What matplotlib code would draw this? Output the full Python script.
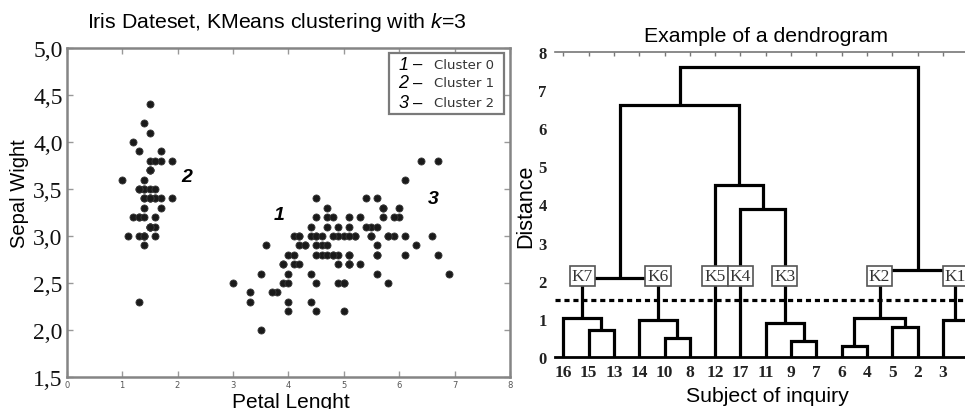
import matplotlib
matplotlib.use("Agg")
import matplotlib.pyplot as plt
from matplotlib.patches import Rectangle

plt.rcParams['font.family'] = ['Liberation Sans', 'DejaVu Sans']
plt.rcParams['mathtext.fontset'] = 'custom'
plt.rcParams['mathtext.rm'] = 'Liberation Sans'
plt.rcParams['mathtext.it'] = 'Liberation Sans:italic'

# ---------------- Data: Iris (petal length, sepal width) by KMeans cluster ----------------
c1_petal_len = [1.4, 1.4, 1.3, 1.5, 1.4, 1.7, 1.4, 1.5, 1.4, 1.5, 1.5, 1.6, 1.4, 1.1, 1.2, 1.5, 1.3,
                1.4, 1.7, 1.5, 1.7, 1.5, 1.0, 1.7, 1.9, 1.6, 1.6, 1.5, 1.4, 1.6, 1.6, 1.5, 1.5, 1.4,
                1.5, 1.2, 1.3, 1.5, 1.3, 1.5, 1.3, 1.3, 1.3, 1.6, 1.9, 1.4, 1.6, 1.4, 1.5, 1.4]
c1_sepal_wid = [3.5, 3.0, 3.2, 3.1, 3.6, 3.9, 3.4, 3.4, 2.9, 3.1, 3.7, 3.4, 3.0, 3.0, 4.0, 4.4, 3.9,
                3.5, 3.8, 3.8, 3.4, 3.7, 3.6, 3.3, 3.4, 3.0, 3.4, 3.5, 3.4, 3.2, 3.1, 3.4, 4.1, 4.2,
                3.1, 3.2, 3.5, 3.1, 3.0, 3.4, 3.5, 2.3, 3.2, 3.5, 3.8, 3.0, 3.8, 3.2, 3.7, 3.3]
c0_petal_len = [4.7, 4.5, 4.9, 4.0, 4.6, 4.5, 4.7, 3.3, 4.6, 3.9, 3.5, 4.2, 4.0, 4.7, 3.6, 4.4, 4.5,
                4.1, 4.5, 3.9, 4.8, 4.0, 4.9, 4.7, 4.3, 4.4, 4.8, 5.0, 4.5, 3.5, 3.8, 3.7, 3.9, 5.1,
                4.5, 4.5, 4.7, 4.4, 4.1, 4.0, 4.4, 4.6, 4.0, 3.3, 4.2, 4.2, 4.2, 4.3, 3.0, 4.1]
c0_sepal_wid = [3.2, 3.2, 3.1, 2.3, 2.8, 2.8, 3.3, 2.4, 2.9, 2.7, 2.0, 3.0, 2.2, 2.9, 2.9, 3.1, 3.0,
                2.7, 2.2, 2.5, 3.2, 2.8, 2.5, 2.8, 2.9, 3.0, 2.8, 3.0, 2.9, 2.6, 2.4, 2.4, 2.7, 2.7,
                3.0, 3.4, 3.1, 2.3, 3.0, 2.5, 2.6, 3.0, 2.6, 2.3, 2.7, 3.0, 2.9, 2.9, 2.5, 2.8]
c2_petal_len = [6.0, 5.1, 5.9, 5.6, 5.8, 6.6, 4.5, 6.3, 5.8, 6.1, 5.1, 5.3, 5.5, 5.0, 5.1, 5.3, 5.5,
                6.7, 6.9, 5.0, 5.7, 4.9, 6.7, 4.9, 5.7, 6.0, 4.8, 4.9, 5.6, 5.8, 6.1, 6.4, 5.6, 5.1,
                5.6, 6.1, 5.6, 5.5, 4.8, 5.4, 5.6, 5.1, 5.1, 5.9, 5.7, 5.2, 5.0, 5.2, 5.4, 5.1]
c2_sepal_wid = [3.3, 2.7, 3.0, 2.9, 3.0, 3.0, 2.5, 2.9, 2.5, 3.6, 3.2, 2.7, 3.0, 2.5, 2.8, 3.2, 3.0,
                3.8, 2.6, 2.2, 3.2, 2.8, 2.8, 2.7, 3.3, 3.2, 2.8, 3.0, 2.8, 3.0, 2.8, 3.8, 2.8, 2.8,
                2.6, 3.0, 3.4, 3.1, 3.0, 3.1, 3.1, 3.1, 2.7, 3.2, 3.3, 3.0, 2.5, 3.0, 3.4, 3.0]

legend_numbers = ["1", "2", "3"]
legend_labels = ["Cluster 0", "Cluster 1", "Cluster 2"]
cluster_tags = ["1", "2", "3"]
cluster_tag_x = [3.83, 2.17, 6.62]
cluster_tag_y = [3.23, 3.63, 3.40]
left_xticks = [0, 1, 2, 3, 4, 5, 6, 7, 8]
left_yticks = [1.5, 2.0, 2.5, 3.0, 3.5, 4.0, 4.5, 5.0]
left_yticklabels = ["1,5", "2,0", "2,5", "3,0", "3,5", "4,0", "4,5", "5,0"]

# ---------------- Data: dendrogram merges (left, right, height) ----------------
merges = [
    ("15", "13", 0.70),   # 0
    ("16", 0, 1.02),      # 1  K7
    ("10", "8", 0.50),    # 2
    ("14", 2, 0.96),      # 3  K6
    (1, 3, 2.06),         # 4
    ("9", "7", 0.42),     # 5
    ("11", 5, 0.89),      # 6  K3
    ("17", 6, 3.87),      # 7
    ("12", 7, 4.50),      # 8
    (4, 8, 6.60),         # 9
    ("6", "4", 0.30),     # 10
    ("5", "2", 0.78),     # 11
    (10, 11, 1.02),       # 12 K2
    ("3", "1", 0.98),     # 13 K1
    (12, 13, 2.28),       # 14
    (9, 14, 7.61),        # 15
]
cluster_names = ["K7", "K6", "K5", "K4", "K3", "K2", "K1"]
cluster_nodes = [1, 3, "12", "17", 6, 12, 13]
label_level = 2.12
cut_level = 1.5
dendro_yticks = [0, 1, 2, 3, 4, 5, 6, 7, 8]

# ---------------- Figure ----------------
fig = plt.figure(figsize=(9.65, 4.10), dpi=100)

# ---- Left panel ----
ax1 = fig.add_axes([0.0691, 0.078, 0.4594, 0.8024])
for px, py in [(c0_petal_len, c0_sepal_wid), (c1_petal_len, c1_sepal_wid), (c2_petal_len, c2_sepal_wid)]:
    ax1.scatter(px, py, s=26, color='#1a1a1a', edgecolors='#3a3a3a', linewidths=0.6, zorder=3)
ax1.set_xlim(0, 8)
ax1.set_ylim(1.5, 5.0)
ax1.set_xticks(left_xticks)
ax1.set_xticklabels([str(v) for v in left_xticks], fontsize=6, color='#555555', family='DejaVu Sans')
ax1.set_yticks(left_yticks)
ax1.set_yticklabels(left_yticklabels, fontsize=17, family='Liberation Serif', color='#111111')
ax1.tick_params(direction='in', length=4, width=1, color='#999999', top=True, right=True, pad=2)
ax1.tick_params(axis='y', pad=3)
for sp in ax1.spines.values():
    sp.set_color('#858585')
    sp.set_linewidth(1.8)

for t, x, y in zip(cluster_tags, cluster_tag_x, cluster_tag_y):
    ax1.text(x, y, t, fontsize=14, fontweight='bold', fontstyle='italic', ha='center', va='center')

# legend box
ax1.add_patch(Rectangle((0.727, 0.799), 0.259, 0.186, transform=ax1.transAxes, facecolor='white',
                        edgecolor='#7a7a7a', linewidth=1.6, zorder=4))
legend_rows = [0.951, 0.894, 0.833]
for num, lab, ry in zip(legend_numbers, legend_labels, legend_rows):
    ax1.text(0.760, ry, num, transform=ax1.transAxes, fontsize=13, fontstyle='italic',
             ha='center', va='center', zorder=5)
    ax1.text(0.792, ry, "\u2013", transform=ax1.transAxes, fontsize=12, ha='center', va='center', zorder=5)
    ax1.text(0.829, ry, lab, transform=ax1.transAxes, fontsize=9.5, family='DejaVu Sans',
             color='#333333', ha='left', va='center', zorder=5)

fig.text(277 / 965, 1 - 22 / 410, "Iris Dateset, KMeans clustering with $k$=3", fontsize=15.3,
         ha='center', va='center')
fig.text(20 / 965, 1 - 194 / 410, "Sepal Wight", fontsize=14.5, rotation=90, ha='center', va='center')
fig.text(291 / 965, 1 - 403 / 410, "Petal Lenght", fontsize=15, ha='center', va='center')

# ---- Right panel: dendrogram ----
ax2 = fig.add_axes([0.5751, 0.1268, 0.4368, 0.7447])

order = []
def collect(node):
    if isinstance(node, str):
        order.append(node)
    else:
        l, r, _ = merges[node]
        collect(l)
        collect(r)
collect(len(merges) - 1)
leaf_pos = {name: i for i, name in enumerate(order)}

def node_xy(node):
    if isinstance(node, str):
        return leaf_pos[node], 0.0
    l, r, h = merges[node]
    return (node_xy(l)[0] + node_xy(r)[0]) / 2.0, h

for i, (l, r, h) in enumerate(merges):
    xl, yl = node_xy(l)
    xr, yr = node_xy(r)
    ax2.plot([xl, xl, xr, xr], [yl, h, h, yr], color='black', lw=2.3,
             solid_joinstyle='miter', solid_capstyle='butt', zorder=2)

ax2.axhline(cut_level, color='black', lw=2.3, dashes=(1.6, 1.2), zorder=1)

for name, node in zip(cluster_names, cluster_nodes):
    x, _ = node_xy(node)
    ax2.text(x, label_level, name, fontsize=12.5, family='Liberation Serif', color='#333333',
             ha='center', va='center', zorder=5,
             bbox=dict(boxstyle='square,pad=0.12', facecolor='white', edgecolor='#555555', linewidth=1.2))

ax2.set_xlim(-0.33, len(order) - 1 + 0.33)
ax2.set_ylim(0, 8)
ax2.set_xticks(range(len(order)))
ax2.set_xticklabels(order, fontsize=12.5, family='Liberation Serif', fontweight='bold', color='#222222')
ax2.set_yticks(dendro_yticks)
ax2.set_yticklabels([str(v) for v in dendro_yticks], fontsize=12, family='Liberation Serif',
                    fontweight='bold', color='#222222')
ax2.tick_params(axis='x', bottom=False, top=True, direction='in', length=3, width=1,
                color='#777777', pad=5)
ax2.tick_params(axis='y', left=False, length=0, pad=6)
ax2.spines['left'].set_visible(False)
ax2.spines['right'].set_visible(False)
ax2.spines['bottom'].set_color('black')
ax2.spines['bottom'].set_linewidth(2.0)
ax2.spines['top'].set_color('#777777')
ax2.spines['top'].set_linewidth(1.2)

fig.text(766 / 965, 1 - 37 / 410, "Example of a dendrogram", fontsize=15.3, ha='center', va='center')
fig.text(526 / 965, 1 - 206 / 410, "Distance", fontsize=15.5, rotation=90, ha='center', va='center')
fig.text(767 / 965, 1 - 397 / 410, "Subject of inquiry", fontsize=15.3, ha='center', va='center')

fig.savefig("out.png", dpi=100)
